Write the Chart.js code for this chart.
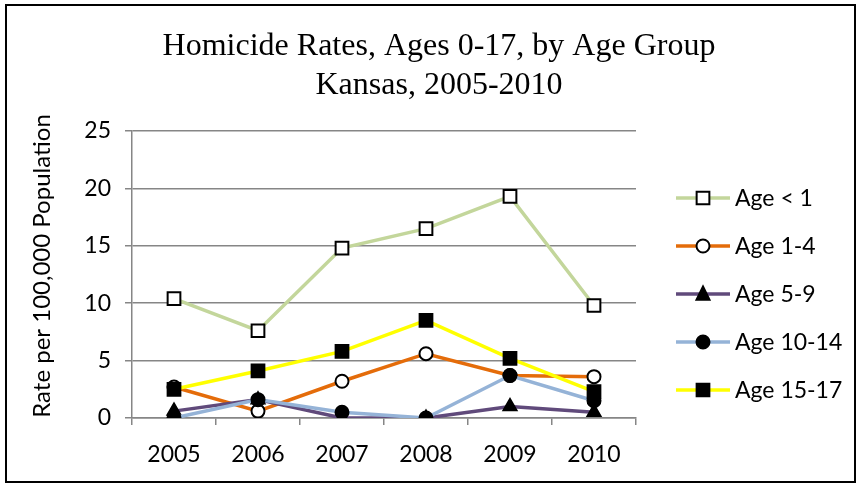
<!DOCTYPE html>
<html>
<head>
<meta charset="utf-8">
<script src="https://cdn.jsdelivr.net/npm/chart.js@4/dist/chart.umd.min.js"></script>
<style>
  html, body { margin: 0; padding: 0; background: #fff; }
  #wrap { width: 860px; height: 485px; }
</style>
</head>
<body>
<div id="wrap"><canvas id="chart" width="860" height="485"></canvas></div>
<script>
const years = ["2005", "2006", "2007", "2008", "2009", "2010"];
const ageUnder1 = [10.4, 7.6, 14.8, 16.5, 19.3, 9.8];
const age1to4 = [2.7, 0.6, 3.2, 5.6, 3.7, 3.6];
const age5to9 = [0.6, 1.6, 0, 0, 1.0, 0.5];
const age10to14 = [0, 1.6, 0.5, 0, 3.7, 1.5];
const age15to17 = [2.5, 4.1, 5.8, 8.5, 5.2, 2.3];
const yTicks = [0, 5, 10, 15, 20, 25];
const titleLines = ["Homicide Rates, Ages 0-17, by Age Group", "Kansas, 2005-2010"];
const yTitle = "Rate per 100,000 Population";

const labelFont = "Lato, 'Open Sans', sans-serif";
const titleFont = "'Liberation Serif', 'Times New Roman', serif";

// series look, also used by the hand drawn legend
const seriesStyle = [
  { label: "Age < 1", data: ageUnder1, color: "#c3d69b", point: "rect", fill: "#ffffff", radius: 9 },
  { label: "Age 1-4", data: age1to4, color: "#e46c0a", point: "circle", fill: "#ffffff", radius: 6.5 },
  { label: "Age 5-9", data: age5to9, color: "#604a7b", point: "triangle", fill: "#000000", radius: 7.5 },
  { label: "Age 10-14", data: age10to14, color: "#95b3d7", point: "circle", fill: "#000000", radius: 6.5 },
  { label: "Age 15-17", data: age15to17, color: "#ffff00", point: "rect", fill: "#000000", radius: 9 },
];

const drawMarker = (ctx, s, x, y) => {
  ctx.save();
  ctx.fillStyle = s.fill;
  ctx.strokeStyle = "#000";
  ctx.lineWidth = 2;
  ctx.beginPath();
  if (s.point === "rect") {
    const h = s.radius * Math.SQRT1_2;
    ctx.rect(x - h, y - h, 2 * h, 2 * h);
  } else if (s.point === "circle") {
    ctx.arc(x, y, s.radius, 0, Math.PI * 2);
  } else {
    const r = s.radius;
    ctx.moveTo(x, y - r);
    ctx.lineTo(x + r * 0.866, y + r * 0.75);
    ctx.lineTo(x - r * 0.866, y + r * 0.75);
    ctx.closePath();
  }
  ctx.fill();
  ctx.stroke();
  ctx.restore();
};

// frame, title, y axis title and legend (Excel style)
const decorations = {
  id: "decorations",
  afterDraw(chart) {
    const ctx = chart.ctx;
    const area = chart.chartArea;
    ctx.save();
    ctx.strokeStyle = "#000";
    ctx.lineWidth = 2;
    ctx.strokeRect(6, 5, 849, 477);

    ctx.fillStyle = "#000";
    ctx.textAlign = "center";
    ctx.textBaseline = "alphabetic";
    ctx.font = "32px " + titleFont;
    ctx.fillText(titleLines[0], 439, 55);
    ctx.fillText(titleLines[1], 439, 94);

    ctx.save();
    ctx.translate(42, 266);
    ctx.rotate(-Math.PI / 2);
    ctx.font = "24px " + labelFont;
    ctx.textBaseline = "middle";
    ctx.fillText(yTitle, 0, 0);
    ctx.restore();

    ctx.font = "23px " + labelFont;
    ctx.textAlign = "left";
    ctx.textBaseline = "middle";
    seriesStyle.forEach((s, i) => {
      const y = 198 + i * 48;
      ctx.strokeStyle = s.color;
      ctx.lineWidth = 3.5;
      ctx.beginPath();
      ctx.moveTo(676, y);
      ctx.lineTo(730, y);
      ctx.stroke();
      drawMarker(ctx, s, 703, y);
      ctx.fillStyle = "#000";
      ctx.fillText(s.label, 735, y + 1);
    });
    ctx.restore();
  },
};

new Chart(document.getElementById("chart"), {
  type: "line",
  data: {
    labels: years,
    datasets: seriesStyle.map((s, i) => ({
      label: s.label,
      data: s.data,
      borderColor: s.color,
      borderWidth: 3.5,
      pointStyle: s.point,
      pointRadius: s.radius,
      pointBackgroundColor: s.fill,
      pointBorderColor: "#000",
      pointBorderWidth: 2,
      tension: 0,
      fill: false,
      order: seriesStyle.length - i,
    })),
  },
  options: {
    responsive: false,
    animation: false,
    layout: { padding: { left: 8, right: 224, top: 131, bottom: 8 } },
    plugins: {
      legend: { display: false },
      tooltip: { enabled: false },
      title: { display: false },
    },
    scales: {
      x: {
        offset: true,
        grid: { offset: true, drawOnChartArea: false, drawTicks: true, tickLength: 7, color: "#868686", lineWidth: 1.5 },
        border: { color: "#868686", width: 1.5 },
        ticks: { color: "#000", font: { family: labelFont, size: 23 }, padding: 16, maxRotation: 0 },
        afterFit: (scale) => { scale.height = 59; },
      },
      y: {
        min: 0,
        max: 25,
        afterBuildTicks: (scale) => { scale.ticks = yTicks.map((v) => ({ value: v })); },
        grid: { color: "#868686", lineWidth: 1.5, tickLength: 7 },
        border: { color: "#868686", width: 1.5 },
        ticks: { color: "#000", font: { family: labelFont, size: 23 }, padding: 14 },
        afterFit: (scale) => { scale.width = 124; },
      },
    },
  },
  plugins: [decorations],
});
</script>
</body>
</html>
